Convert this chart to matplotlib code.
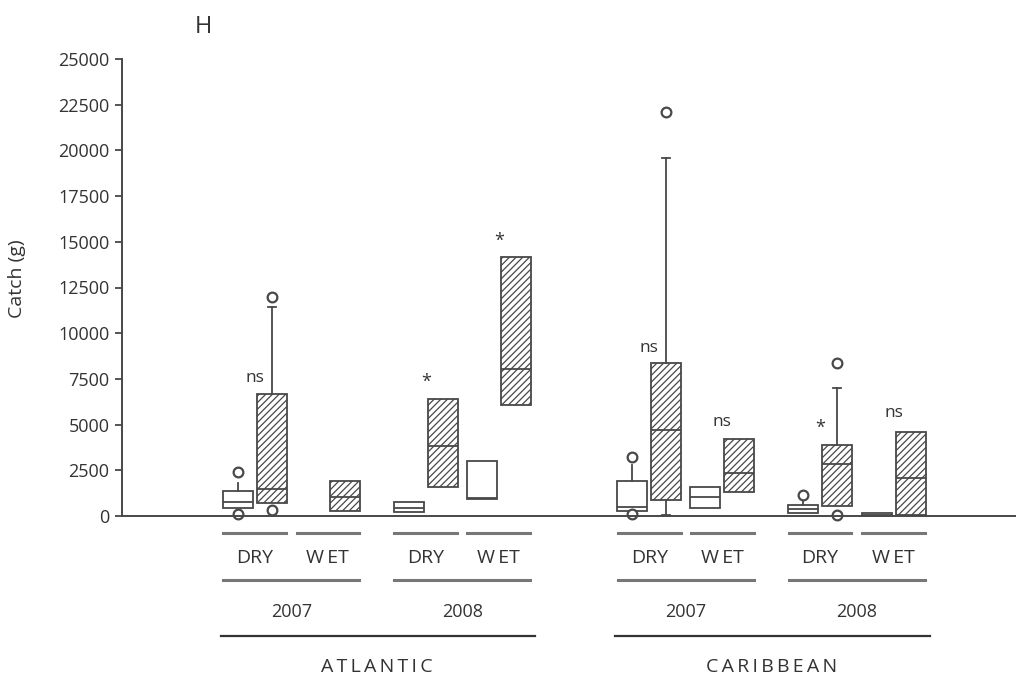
import matplotlib
matplotlib.use("Agg")
import matplotlib.pyplot as plt
import matplotlib.transforms as mtransforms

plt.rcParams['font.family'] = ['Open Sans', 'DejaVu Sans']
plt.rcParams['hatch.linewidth'] = 0.9
plt.rcParams['hatch.color'] = '#4a4a4a'

INK = '#484848'
TXT = '#333333'

# one entry per season/year/region group
group_pos = [0, 1, 2.34, 3.34, 5.4, 6.4, 7.74, 8.75]
seasons = ['DRY', 'WET', 'DRY', 'WET', 'DRY', 'WET', 'DRY', 'WET']
years = ['2007', '2008', '2007', '2008']
regions = ['ATLANTIC', 'CARIBBEAN']

# open boxes (q1, median, q3, whisker low, whisker high, outliers); None = no box
open_q1 = [440, None, 200, 930, 270, 440, 170, 0]
open_med = [770, None, 450, 980, 490, 1040, 380, 80]
open_q3 = [1370, None, 780, 3000, 1910, 1590, 600, 150]
open_lo = [440, None, 200, 930, 270, 440, 170, 0]
open_hi = [1800, None, 780, 3000, 2790, 1590, 840, 150]
open_fl = [[2400, 120], [], [], [], [3230, 120], [], [1150], []]

# hatched boxes
hat_q1 = [710, 270, 1590, 6070, 870, 1310, 550, 30]
hat_med = [1480, 1040, 3830, 8040, 4700, 2350, 2840, 2080]
hat_q3 = [6670, 1900, 6400, 14170, 8370, 4200, 3880, 4600]
hat_lo = [710, 270, 1590, 6070, 50, 1310, 550, 30]
hat_hi = [11430, 1900, 6400, 14170, 19580, 4200, 7000, 4600]
hat_fl = [[12000, 330], [], [], [], [22100], [], [8370, 60], []]
hat_cap = [True, False, False, False, True, False, True, False]

# significance marks above each group
sig_text = ['ns', None, '*', '*', 'ns', 'ns', '*', 'ns']
sig_y = [7550, None, 7330, 15040, 9190, 5140, 4810, 5630]

fig = plt.figure(figsize=(10.18, 6.81), dpi=100)
ax = fig.add_axes([122 / 1018, 1 - 516 / 681, (1015 - 122) / 1018, (516 - 59) / 681])

def stats(q1, med, q3, lo, hi, fl):
    return dict(q1=q1, med=med, q3=q3, whislo=lo, whishi=hi, fliers=fl)

line_kw = dict(color=INK, linewidth=1.3)
flier_kw = dict(marker='o', markersize=7, markerfacecolor='white',
                markeredgecolor=INK, markeredgewidth=1.6, linestyle='none')

open_stats, open_x = [], []
for i, g in enumerate(group_pos):
    if open_q1[i] is None:
        continue
    open_stats.append(stats(open_q1[i], open_med[i], open_q3[i], open_lo[i], open_hi[i], open_fl[i]))
    open_x.append(g - 0.23)
res_o = ax.bxp(open_stats, positions=open_x, widths=0.41, patch_artist=True, showcaps=False,
               boxprops=dict(facecolor='white', edgecolor=INK, linewidth=1.3),
               medianprops=line_kw, whiskerprops=line_kw, flierprops=flier_kw)

hat_stats = [stats(hat_q1[i], hat_med[i], hat_q3[i], hat_lo[i], hat_hi[i], hat_fl[i])
             for i in range(len(group_pos))]
hat_x = [g + 0.23 for g in group_pos]
res = ax.bxp(hat_stats, positions=hat_x, widths=0.41, patch_artist=True, showcaps=True,
             capwidths=0.11,
             boxprops=dict(facecolor='white', edgecolor=INK, linewidth=1.3, hatch='/////'),
             medianprops=line_kw, whiskerprops=line_kw, capprops=line_kw, flierprops=flier_kw)
for i, has in enumerate(hat_cap):
    if not has:
        res['caps'][2 * i].set_visible(False)
        res['caps'][2 * i + 1].set_visible(False)
# lower caps only where a lower whisker exists
for i in range(len(group_pos)):
    if hat_lo[i] == hat_q1[i]:
        res['caps'][2 * i].set_visible(False)

for art in res['fliers'] + res_o['fliers']:
    art.set_clip_on(False)

for g, t, y in zip(group_pos, sig_text, sig_y):
    if t is None:
        continue
    ax.text(g, y, t, ha='center', va='center', fontsize=12.5 if t == 'ns' else 13, color=TXT)

ax.set_xlim(-1.82, 10.41)
ax.set_ylim(0, 25000)
ax.set_yticks(range(0, 25001, 2500))
ax.set_xticks([])
ax.tick_params(axis='y', length=5, width=1.3, color=INK, labelsize=13, labelcolor=TXT, pad=4)
for s in ['top', 'right']:
    ax.spines[s].set_visible(False)
for s in ['left', 'bottom']:
    ax.spines[s].set_color(INK)
    ax.spines[s].set_linewidth(1.4)
ax.set_ylabel('Catch (g)', fontsize=14, color=TXT)
ax.yaxis.set_label_coords(-0.108, 0.52)

# nested category labels below the axis
tr = mtransforms.blended_transform_factory(ax.transData, ax.transAxes)
lk = dict(color='#777777', linewidth=2.2, transform=tr, clip_on=False)
for g, s in zip(group_pos, seasons):
    ax.plot([g - 0.43, g + 0.43], [-0.037, -0.037], **lk)
    label = s if s == 'DRY' else 'W\u2009ET'
    ax.text(g, -0.092, label, transform=tr, ha='center', va='center', fontsize=14, color=TXT)
for k, y in enumerate(years):
    a, b = group_pos[2 * k], group_pos[2 * k + 1]
    ax.plot([a - 0.43, b + 0.43], [-0.140, -0.140], **lk)
    ax.text((a + b) / 2, -0.210, y, transform=tr, ha='center', va='center', fontsize=13, color=TXT)
for k, r in enumerate(regions):
    a, b = group_pos[4 * k], group_pos[4 * k + 3]
    ax.plot([a - 0.47, b + 0.5], [-0.2626, -0.2626], color='#333333', linewidth=1.6,
            transform=tr, clip_on=False)
    ax.text((a + b) / 2, -0.330, '\u2009'.join(r), transform=tr, ha='center', va='center',
            fontsize=14, color=TXT)

fig.text(203 / 1018, 1 - 27 / 681, 'H', ha='center', va='center', fontsize=17, color=TXT)

fig.savefig('out.png', dpi=100)
